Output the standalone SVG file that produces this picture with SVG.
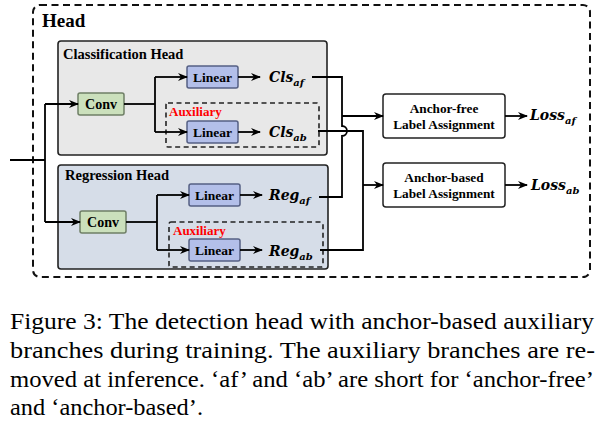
<svg xmlns="http://www.w3.org/2000/svg" width="600" height="422" viewBox="0 0 600 422">
<defs>
<marker id="arr" markerWidth="10" markerHeight="10" refX="9" refY="5" orient="auto" markerUnits="userSpaceOnUse">
<path d="M0,1 L10,5 L0,9 L3,5 z" fill="#000"/>
</marker>
<style>
.lbl{font-family:"Liberation Serif",serif;font-weight:bold;fill:#000}
.math{font-family:"DejaVu Serif","Liberation Serif",serif;font-weight:bold;font-style:italic;font-size:14px;fill:#000}
.sub{font-size:10px}
.c{stroke:#000;stroke-width:1.8;fill:none}
.ca{stroke:#000;stroke-width:1.8;fill:none;marker-end:url(#arr)}
.conv{fill:#cbe0bc;stroke:#6f7f66;stroke-width:1.5}
.lin{fill:#b3bfe9;stroke:#566084;stroke-width:1.5}
.aux{fill:none;stroke:#222;stroke-width:1.6;stroke-dasharray:5,3.5}
.la{fill:#fff;stroke:#222;stroke-width:1.5}
.cap{font-family:"Liberation Serif","Times New Roman",serif;font-size:22.5px;fill:#000}
</style>
</defs>

<g id="head">
<rect x="33" y="5" width="557" height="272" rx="7" fill="none" stroke="#111" stroke-width="2" stroke-dasharray="7,4.5"/>
<text class="lbl" x="42" y="27" font-size="19">Head</text>
</g>

<g id="cls-head">
<rect x="58" y="41" width="269" height="114" rx="3" fill="#e8e8e8" stroke="#222" stroke-width="1.6"/>
<text class="lbl" x="63" y="59" font-size="14.5">Classification Head</text>
</g>
<g id="cls-conv">
<rect class="conv" x="78" y="93" width="46" height="22" rx="2"/>
<text class="lbl" x="101" y="109" font-size="14" text-anchor="middle">Conv</text>
</g>
<g id="cls-linear-af">
<rect class="lin" x="187" y="66" width="51" height="22" rx="2"/>
<text class="lbl" x="212.5" y="82" font-size="13.5" text-anchor="middle">Linear</text>
</g>
<g id="cls-af">
<text class="math" x="269" y="82">Cls<tspan class="sub" dy="4">af</tspan></text>
</g>
<g id="cls-aux">
<rect class="aux" x="166" y="103" width="153" height="44" rx="2"/>
<text class="lbl" x="169" y="116" font-size="13" style="fill:#f00">Auxiliary</text>
</g>
<g id="cls-linear-ab">
<rect class="lin" x="187" y="121" width="51" height="22" rx="2"/>
<text class="lbl" x="212.5" y="137" font-size="13.5" text-anchor="middle">Linear</text>
</g>
<g id="cls-ab">
<text class="math" x="269" y="137">Cls<tspan class="sub" dy="4">ab</tspan></text>
</g>

<g id="reg-head">
<rect x="58" y="165" width="270" height="104" rx="3" fill="#d6dde8" stroke="#222" stroke-width="1.6"/>
<text class="lbl" x="65" y="180" font-size="14.5">Regression Head</text>
</g>
<g id="reg-conv">
<rect class="conv" x="80" y="211" width="46" height="22" rx="2"/>
<text class="lbl" x="103" y="227" font-size="14" text-anchor="middle">Conv</text>
</g>
<g id="reg-linear-af">
<rect class="lin" x="189" y="184" width="51" height="22" rx="2"/>
<text class="lbl" x="214.5" y="200" font-size="13.5" text-anchor="middle">Linear</text>
</g>
<g id="reg-af">
<text class="math" x="269" y="200">Reg<tspan class="sub" dy="4">af</tspan></text>
</g>
<g id="reg-aux">
<rect class="aux" x="169" y="222" width="154" height="45" rx="2"/>
<text class="lbl" x="173" y="235" font-size="13" style="fill:#f00">Auxiliary</text>
</g>
<g id="reg-linear-ab">
<rect class="lin" x="189" y="239" width="51" height="22" rx="2"/>
<text class="lbl" x="214.5" y="255" font-size="13.5" text-anchor="middle">Linear</text>
</g>
<g id="reg-ab">
<text class="math" x="269" y="256">Reg<tspan class="sub" dy="4">ab</tspan></text>
</g>

<g id="af-assign">
<rect class="la" x="383" y="94" width="122" height="44" rx="3"/>
<text class="lbl" x="444" y="113" font-size="13.3" text-anchor="middle">Anchor-free</text>
<text class="lbl" x="444" y="129" font-size="13.3" text-anchor="middle">Label Assignment</text>
</g>
<g id="ab-assign">
<rect class="la" x="383" y="163" width="122" height="44" rx="3"/>
<text class="lbl" x="444" y="182" font-size="13.3" text-anchor="middle">Anchor-based</text>
<text class="lbl" x="444" y="198" font-size="13.3" text-anchor="middle">Label Assignment</text>
</g>
<g id="loss-af">
<text class="math" x="530" y="120">Loss<tspan class="sub" dy="4">af</tspan></text>
</g>
<g id="loss-ab">
<text class="math" x="531" y="190">Loss<tspan class="sub" dy="4">ab</tspan></text>
</g>

<g id="connectors">
<path class="c" d="M10,160 H45"/>
<path class="c" d="M45,104 V222"/>
<path class="ca" d="M45,104 H78"/>
<path class="ca" d="M45,222 H80"/>
<path class="c" d="M124,104 H155"/>
<path class="c" d="M155,77 V132"/>
<path class="ca" d="M155,77 H187"/>
<path class="ca" d="M155,132 H187"/>
<path class="ca" d="M238,77 H260"/>
<path class="ca" d="M238,132 H260"/>
<path class="c" d="M126,222 H157"/>
<path class="c" d="M157,195 V250"/>
<path class="ca" d="M157,195 H189"/>
<path class="ca" d="M157,250 H189"/>
<path class="ca" d="M240,195 H262"/>
<path class="ca" d="M240,250 H262"/>
<path class="c" d="M312,77 H342 V126 A5,5 0 0 1 342,136 V197 H319"/>
<path class="ca" d="M342,116 H383"/>
<path class="c" d="M318,131 H363 V250 H320"/>
<path class="ca" d="M363,185 H383"/>
<path class="ca" d="M505,116 H527"/>
<path class="ca" d="M505,185 H527"/>
</g>

<g id="caption">
<text class="cap" x="10" y="329" textLength="584" lengthAdjust="spacingAndGlyphs">Figure 3: The detection head with anchor-based auxiliary</text>
<text class="cap" x="10" y="358" textLength="585" lengthAdjust="spacingAndGlyphs">branches during training.  The auxiliary branches are re-</text>
<text class="cap" x="10" y="387" textLength="584" lengthAdjust="spacingAndGlyphs">moved at inference. ‘af’ and ‘ab’ are short for ‘anchor-free’</text>
<text class="cap" x="10" y="415" textLength="193" lengthAdjust="spacingAndGlyphs">and ‘anchor-based’.</text>
</g>
</svg>
